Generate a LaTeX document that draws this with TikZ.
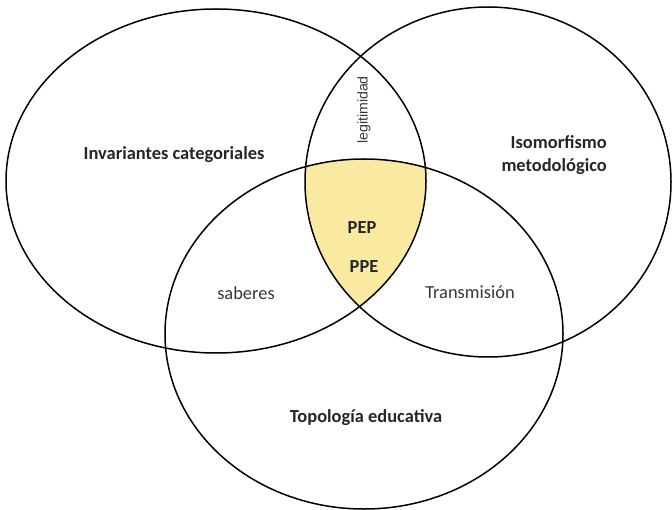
\documentclass[tikz,border=0pt]{standalone}
\usepackage{fontspec}
\setmainfont{Carlito}
\newfontfamily\arialfont{Liberation Sans}
\definecolor{pepyellow}{RGB}{250,233,160}
\definecolor{txtgray}{RGB}{55,55,55}
\tikzset{
  ring/.style={draw=black, line width=1.5bp},
  bigtitle/.style={font=\fontsize{18.5}{23}\selectfont\bfseries, text=black!85, inner sep=0pt},
  small/.style={font=\fontsize{18.5}{23}\selectfont, text=txtgray, inner sep=0pt},
  vert/.style={font=\arialfont\fontsize{14.2}{16}\selectfont, text=txtgray, inner sep=0pt, rotate=90}
}
\begin{document}
\begin{tikzpicture}[x=1bp,y=-1bp]
\useasboundingbox (0,0) rectangle (672,510);
% yellow triple intersection
\begin{scope}
  \clip (216,181) ellipse [x radius=210bp, y radius=172bp];
  \clip (488,182) ellipse [x radius=183bp, y radius=175bp];
  \fill[pepyellow] (364,334) ellipse [x radius=199bp, y radius=175bp];
\end{scope}
\draw[ring] (216,181) ellipse [x radius=210bp, y radius=172bp];
\draw[ring] (488,182) ellipse [x radius=183bp, y radius=175bp];
\draw[ring] (364,334) ellipse [x radius=199bp, y radius=175bp];
\node[bigtitle] (inv) at (174,155) {Invariantes categoriales};
\node[bigtitle, align=right, anchor=east] (iso) at (607,155) {Isomorfismo\\metodológico};
\node[bigtitle] (top) at (366,418) {Topología educativa};
\node[bigtitle] (pep) at (362,228) {PEP};
\node[bigtitle] (ppe) at (364,267) {PPE};
\node[small] (sab) at (246,293) {saberes};
\node[small] (tra) at (470,292) {Transmisión};
\node[vert] (leg) at (364,110) {legitimidad};
\end{tikzpicture}
\end{document}
